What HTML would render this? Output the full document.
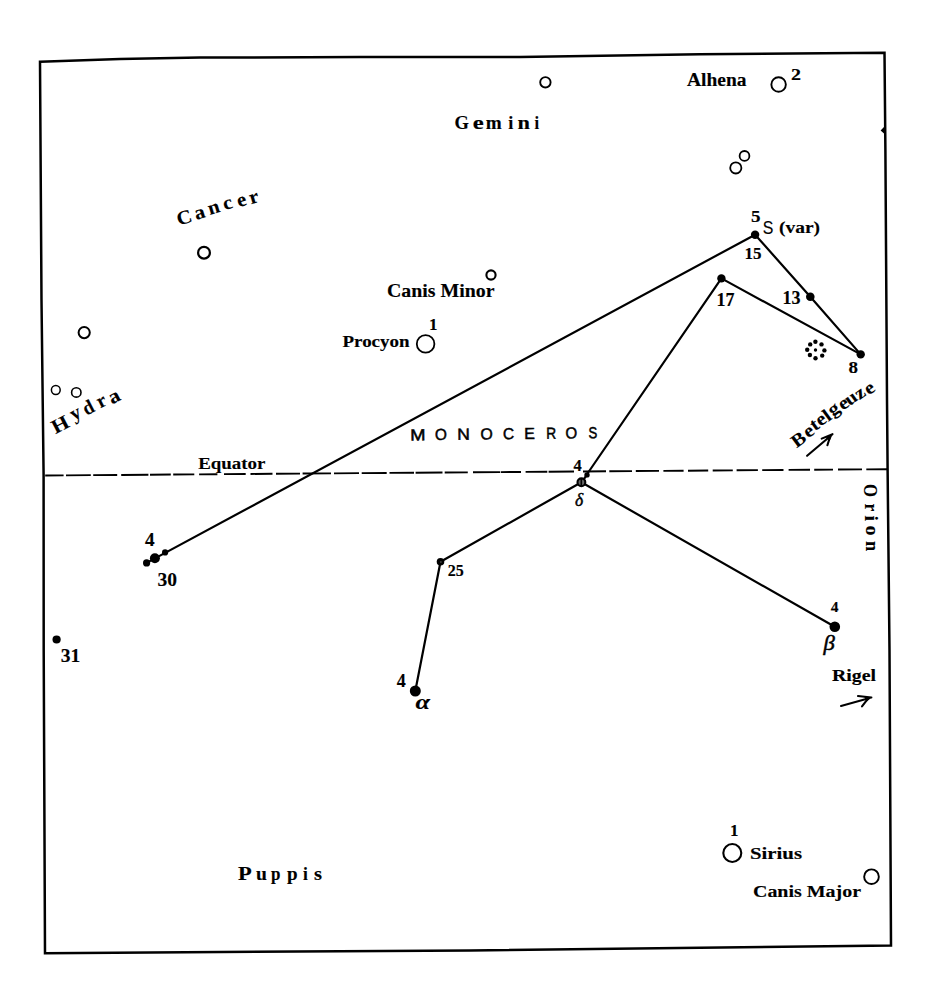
<!DOCTYPE html>
<html>
<head>
<meta charset="utf-8">
<style>
html,body{margin:0;padding:0;background:#fff;}
body{width:938px;height:1000px;overflow:hidden;}
svg{display:block;}
.t{font-family:"Liberation Serif",serif;font-weight:bold;fill:#000;stroke:#000;stroke-width:0.15px;}
.t .s{font-family:"Liberation Sans",sans-serif;font-weight:normal;}
.t .m{stroke-width:0.5px;}
.t .l{stroke-width:0.1px;}
</style>
</head>
<body>
<svg width="938" height="1000" viewBox="0 0 938 1000">
<rect width="938" height="1000" fill="#fff"/>
<!-- frame -->
<g fill="none" stroke="#000" stroke-width="2.5" stroke-linejoin="miter">
<polygon points="40,61.7 120,59 200,57.6 360,57 520,56.9 700,54.2 884.5,52.8 885.4,150 887,400 887.6,469 889.5,650 891,945.5 470,950.5 45,953.2 43.7,650 43.6,475 41.5,300"/>
</g>
<path d="M884,127 L880.6,130.5 L884,133.5 Z" fill="#000"/>

<!-- equator -->
<path d="M45.2,475.50L63.6,475.36 M66.0,475.34L90.8,475.16 M93.2,475.14L117.2,474.96 M121.2,474.93L148.4,474.72 M150.0,474.71L170.8,474.56 M173.2,474.54L194.3,474.38 M199.1,474.34L217.4,474.21 M224.0,474.16L245.7,473.99 M250.5,473.96L272.5,473.79 M276.0,473.77L300.0,473.59 M302.6,473.57L331.0,473.36 M334.0,473.33L359.0,473.14 M361.7,473.12L386.7,472.94 M389.5,472.92L414.0,472.73 M415.6,472.72L442.5,472.52 M444.7,472.50L467.8,472.33 M473.0,472.29L500.0,472.09 M500.7,472.08L521.0,471.93 M525.6,471.90L547.3,471.73 M548.6,471.72L574.0,471.53 M583.0,471.46L606.0,471.29 M609.3,471.27L632.0,471.10 M635.8,471.07L659.0,470.89 M663.4,470.86L683.6,470.71 M688.0,470.68L708.2,470.53 M712.7,470.49L732.8,470.34 M736.6,470.31L757.9,470.15 M762.2,470.12L783.5,469.96 M788.6,469.92L810.0,469.76 M814.2,469.73L833.0,469.59 M838.0,469.55L862.0,469.37 M866.3,469.34L887.6,469.18" stroke="#000" stroke-width="1.9" fill="none"/>

<!-- constellation lines -->
<g stroke="#000" stroke-width="2.2" fill="none" stroke-linecap="round">
<line x1="146.6" y1="562.9" x2="755.1" y2="234.7"/>
<line x1="755.1" y1="234.7" x2="810.3" y2="296.7"/>
<line x1="810.3" y1="296.7" x2="860.7" y2="354.4"/>
<line x1="721.4" y1="278.4" x2="860.7" y2="354.4"/>
<line x1="721.4" y1="278.4" x2="587.5" y2="473.5"/>
<line x1="587" y1="474.9" x2="581.4" y2="482.3"/>
<line x1="581.4" y1="482.3" x2="440.5" y2="561.7"/>
<line x1="440.5" y1="561.7" x2="415.3" y2="691"/>
<line x1="581.4" y1="482.3" x2="834.8" y2="626.8"/>
</g>

<!-- open circles -->
<g fill="#fff" stroke="#000">
<circle cx="545.4" cy="82.3" r="5.2" stroke-width="1.9"/>
<circle cx="778.6" cy="84.5" r="7.25" stroke-width="1.9"/>
<circle cx="744.5" cy="155.9" r="4.9" stroke-width="1.8"/>
<circle cx="735.8" cy="167.9" r="5.6" stroke-width="1.8"/>
<circle cx="204.0" cy="252.7" r="5.9" stroke-width="2.2"/>
<circle cx="491.0" cy="275.0" r="4.6" stroke-width="2.1"/>
<circle cx="84.2" cy="332.6" r="5.6" stroke-width="2.0"/>
<circle cx="55.8" cy="390.0" r="4.4" stroke-width="1.5"/>
<circle cx="76.3" cy="392.4" r="4.7" stroke-width="1.6"/>
<circle cx="425.6" cy="343.9" r="8.8" stroke-width="1.8"/>
<circle cx="732.3" cy="853.0" r="9.0" stroke-width="2.1"/>
<circle cx="871.5" cy="876.7" r="7.35" stroke-width="1.9"/>
</g>

<!-- filled stars -->
<g fill="#000">
<circle cx="755.1" cy="234.7" r="4.2"/>
<circle cx="721.4" cy="278.4" r="4.2"/>
<circle cx="810.3" cy="296.7" r="4.3"/>
<circle cx="860.7" cy="354.4" r="4.2"/>
<circle cx="154.9" cy="558.2" r="5.0"/>
<circle cx="146.6" cy="562.9" r="3.6"/>
<circle cx="165.1" cy="552.4" r="3.1"/>
<circle cx="56.6" cy="639.5" r="4.1"/>
<circle cx="415.3" cy="691.0" r="5.5"/>
<circle cx="834.8" cy="626.8" r="5.3"/>
<circle cx="587.0" cy="474.9" r="2.7"/>
<circle cx="440.5" cy="561.7" r="3.8"/>
</g>
<circle cx="440.9" cy="562" r="0.8" fill="#666"/>
<circle cx="581.4" cy="482.3" r="3.9" fill="#666" stroke="#000" stroke-width="2.1"/>
<line x1="581.3" y1="478" x2="581.3" y2="486.6" stroke="#000" stroke-width="1.6"/>

<!-- dotted circle (variable) -->
<g fill="#000">
<circle cx="815.4" cy="341.7" r="2.2"/>
<circle cx="810.2" cy="344.4" r="2.2"/>
<circle cx="807.2" cy="349.7" r="2.2"/>
<circle cx="809.9" cy="355" r="2.2"/>
<circle cx="815.5" cy="358.2" r="2.2"/>
<circle cx="822.2" cy="355.6" r="2.2"/>
<circle cx="824.4" cy="350.4" r="2.2"/>
<circle cx="821.5" cy="344.4" r="2.2"/>
<circle cx="815.5" cy="350" r="1.7"/>
</g>

<!-- arrows -->
<g stroke="#000" stroke-width="2.1" fill="none" stroke-linecap="round" stroke-linejoin="round">
<line x1="807.1" y1="455.8" x2="829" y2="437.2"/>
<line x1="821.7" y1="438.6" x2="832.5" y2="434.2"/>
<line x1="827.4" y1="445.2" x2="830" y2="437"/>
<line x1="841" y1="705.9" x2="867" y2="698.8"/>
<line x1="858" y1="696" x2="871.4" y2="697.5"/>
<line x1="862" y1="706.3" x2="868" y2="698.6"/>
</g>
<g fill="#000">
<polygon points="833,433.8 825.8,437.8 829.6,441"/>
<polygon points="871.8,697.4 864.2,696.6 866.4,701.8"/>
</g>

<!-- labels -->
<g class="t">
<text transform="translate(454.50,129.30) scale(0.991,1)" font-size="18.7">G</text>
<text transform="translate(472.75,129.30) scale(1.324,1)" font-size="18.7">e</text>
<text transform="translate(485.79,129.30) scale(1.023,1)" font-size="18.7">m</text>
<text transform="translate(508.20,129.30) scale(0.975,1)" font-size="18.7">i</text>
<text transform="translate(517.60,129.30) scale(1.196,1)" font-size="18.7">n</text>
<text transform="translate(534.54,129.30) scale(0.887,1)" font-size="18.7">i</text>
<text transform="translate(237.92,880.30) scale(1.201,1)" font-size="18.7">P</text>
<text transform="translate(256.10,880.30) scale(1.050,1)" font-size="18.7">u</text>
<text transform="translate(271.09,880.30) scale(0.904,1)" font-size="18.7">p</text>
<text transform="translate(287.06,880.30) scale(1.021,1)" font-size="18.7">p</text>
<text transform="translate(302.92,880.30) scale(0.931,1)" font-size="18.7">i</text>
<text transform="translate(313.88,880.30) scale(1.103,1)" font-size="18.7">s</text>
<text class="l" transform="translate(178.83,225.80) rotate(-16.75) scale(1.080,1)" font-size="19.5">C</text>
<text class="l" transform="translate(196.18,219.96) rotate(-16.75) scale(1.080,1)" font-size="19.5">a</text>
<text class="l" transform="translate(209.70,215.12) rotate(-16.75) scale(1.080,1)" font-size="19.5">n</text>
<text class="l" transform="translate(224.83,210.19) rotate(-16.75) scale(1.080,1)" font-size="19.5">c</text>
<text class="l" transform="translate(238.84,207.18) rotate(-16.75) scale(1.080,1)" font-size="19.5">e</text>
<text class="l" transform="translate(251.00,204.29) rotate(-16.75) scale(1.080,1)" font-size="19.5">r</text>
<text class="l" transform="translate(55.49,434.34) rotate(-27.25) scale(1.100,1)" font-size="20">H</text>
<text class="l" transform="translate(73.87,420.95) rotate(-27.25)" font-size="20">y</text>
<text class="l" transform="translate(86.49,415.83) rotate(-27.25) scale(0.950,1)" font-size="20">d</text>
<text class="l" transform="translate(100.28,408.47) rotate(-27.25)" font-size="20">r</text>
<text class="l" transform="translate(112.05,404.59) rotate(-27.25) scale(1.100,1)" font-size="20">a</text>
<text class="l" transform="translate(796.59,448.48) rotate(-36.25) scale(1.120,1)" font-size="18.5">B</text>
<text class="l" transform="translate(808.34,438.41) rotate(-36.25) scale(1.120,1)" font-size="18.5">e</text>
<text class="l" transform="translate(815.05,431.44) rotate(-36.25) scale(1.120,1)" font-size="18.5">t</text>
<text class="l" transform="translate(820.54,426.71) rotate(-36.25) scale(1.120,1)" font-size="18.5">e</text>
<text class="l" transform="translate(828.25,421.89) rotate(-36.25) scale(1.120,1)" font-size="18.5">l</text>
<text class="l" transform="translate(832.78,416.65) rotate(-36.25) scale(1.120,1)" font-size="18.5">g</text>
<text class="l" transform="translate(842.94,410.71) rotate(-36.25) scale(1.120,1)" font-size="18.5">e</text>
<text class="l" transform="translate(849.60,406.37) rotate(-36.25) scale(1.120,1)" font-size="18.5">u</text>
<text class="l" transform="translate(859.42,400.13) rotate(-36.25) scale(1.120,1)" font-size="18.5">z</text>
<text class="l" transform="translate(868.94,395.61) rotate(-36.25) scale(1.120,1)" font-size="18.5">e</text>
<text class="l" transform="translate(864.44,483.88) rotate(90.00) scale(0.860,1)" font-size="19.5">O</text>
<text class="l" transform="translate(865.18,503.42) rotate(90.00) scale(0.908,1)" font-size="19.5">r</text>
<text class="l" transform="translate(865.03,515.42) rotate(90.00)" font-size="19.5">i</text>
<text class="l" transform="translate(865.70,525.53) rotate(90.00) scale(1.041,1)" font-size="19.5">o</text>
<text class="l" transform="translate(865.81,541.01) rotate(90.00) scale(0.938,1)" font-size="19.5">n</text>
<text class="s m" transform="translate(410.20,440.38) rotate(-0.60) scale(1.149,1)" font-size="16">M</text>
<text class="s m" transform="translate(434.98,440.09) rotate(-0.60) scale(0.961,1)" font-size="16">O</text>
<text class="s m" transform="translate(457.37,439.82) rotate(-0.60) scale(1.097,1)" font-size="16">N</text>
<text class="s m" transform="translate(480.46,439.55) rotate(-0.60) scale(0.989,1)" font-size="16">O</text>
<text class="s m" transform="translate(502.92,439.28) rotate(-0.60) scale(0.967,1)" font-size="16">C</text>
<text class="s m" transform="translate(524.19,439.02) rotate(-0.60) scale(1.003,1)" font-size="16">E</text>
<text class="s m" transform="translate(546.28,438.75) rotate(-0.60) scale(0.863,1)" font-size="16">R</text>
<text class="s m" transform="translate(565.39,438.53) rotate(-0.60) scale(0.943,1)" font-size="16">O</text>
<text class="s m" transform="translate(588.41,438.25) rotate(-0.60) scale(0.825,1)" font-size="16">S</text>
<text x="687" y="85.8" font-size="18" textLength="59.5" lengthAdjust="spacingAndGlyphs">Alhena</text>
<text x="791" y="80" font-size="17" textLength="10" lengthAdjust="spacingAndGlyphs">2</text>
<text x="387" y="296.8" font-size="18" textLength="107.5" lengthAdjust="spacingAndGlyphs">Canis Minor</text>
<text x="342.5" y="346.5" font-size="17" textLength="67" lengthAdjust="spacingAndGlyphs">Procyon</text>
<text x="429" y="329.6" font-size="17">1</text>
<text x="751" y="222.3" font-size="16" textLength="9.5" lengthAdjust="spacingAndGlyphs">5</text>
<text class="s" transform="translate(762.8,233.7) scale(0.86,1)" font-size="18.5">S</text>
<text x="779" y="232.7" font-size="16.2" textLength="41" lengthAdjust="spacingAndGlyphs">(var)</text>
<text x="744.5" y="258.6" font-size="17">15</text>
<text x="716.5" y="306" font-size="18">17</text>
<text x="782.5" y="304.2" font-size="18">13</text>
<text x="848.5" y="372.6" font-size="17.5" textLength="9.5" lengthAdjust="spacingAndGlyphs">8</text>
<text class="l" x="198.2" y="469.3" font-size="16.6" textLength="67.3" lengthAdjust="spacingAndGlyphs">Equator</text>
<text x="573.5" y="471" font-size="16.5">4</text>
<text x="575.1" y="506" font-size="18" textLength="8.2" lengthAdjust="spacingAndGlyphs" style="font-style:italic;font-weight:normal;stroke-width:0.45px">δ</text>
<text x="144.9" y="545.5" font-size="18" textLength="9.6" lengthAdjust="spacingAndGlyphs">4</text>
<text x="157.5" y="586" font-size="19.5">30</text>
<text x="60.8" y="662" font-size="19.5">31</text>
<text x="447.8" y="576" font-size="16">25</text>
<text x="396.8" y="686.5" font-size="18">4</text>
<text x="415.5" y="708.8" font-size="21" textLength="14.5" lengthAdjust="spacingAndGlyphs" style="font-style:italic">α</text>
<text x="830.8" y="611.8" font-size="15.5">4</text>
<text x="823.4" y="650" font-size="20" textLength="11.3" lengthAdjust="spacingAndGlyphs" style="font-style:italic;font-weight:normal;stroke-width:0.45px">β</text>
<text x="832" y="680.6" font-size="17" textLength="44" lengthAdjust="spacingAndGlyphs">Rigel</text>
<text x="730" y="836.4" font-size="17">1</text>
<text x="750" y="858.5" font-size="17.5" textLength="52" lengthAdjust="spacingAndGlyphs">Sirius</text>
<text x="753" y="897.3" font-size="17.5" textLength="108" lengthAdjust="spacingAndGlyphs">Canis Major</text>
</g>
</svg>
</body>
</html>
